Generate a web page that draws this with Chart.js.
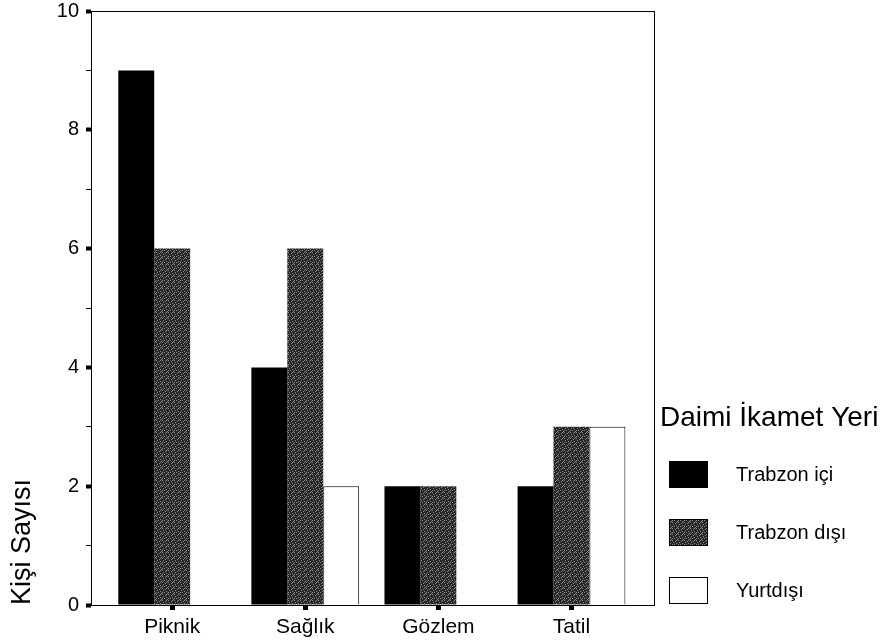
<!DOCTYPE html>
<html>
<head>
<meta charset="utf-8">
<script src="https://cdn.jsdelivr.net/npm/chart.js@4/dist/chart.umd.min.js"></script>
<style>
  html, body { margin: 0; padding: 0; background: #fff; }
  #wrap { width: 886px; height: 644px; }
</style>
</head>
<body>
<div id="wrap"><canvas id="chart" width="886" height="644"></canvas></div>
<script>
// Data
const categories = ['Piknik', 'Sağlık', 'Gözlem', 'Tatil'];
const trabzonIci = [9, 4, 2, 2];
const trabzonDisi = [6, 6, 2, 3];
const yurtdisi = [0, 2, 0, 3];
const seriesNames = ['Trabzon içi', 'Trabzon dışı', 'Yurtdışı'];
const legendTitle = 'Daimi İkamet Yeri';
const yTitle = 'Kişi Sayısı';

const FONT = '"Liberation Sans", Arial, sans-serif';

// stippled dark grey, like the scanned fill
function makeGrey() {
    const c = document.createElement('canvas');
    c.width = 6; c.height = 6;
    const g = c.getContext('2d');
    g.fillStyle = '#262626';
    g.fillRect(0, 0, 6, 6);
    g.fillStyle = '#8c8c8c';
    const dots = [[0,0],[3,1],[1,2],[4,3],[2,4],[5,5],[0,4],[4,0]];
    dots.forEach(([x, y]) => g.fillRect(x, y, 1, 1));
    return g.createPattern(c, 'repeat');
}
const grey = makeGrey();

const toPoints = arr => arr.map((v, i) => ({ x: i + 1, y: v }));

// plot frame
const framePlugin = {
    id: 'frame',
    afterDatasetsDraw(chart) {
        const { ctx, chartArea: a } = chart;
        ctx.save();
        ctx.strokeStyle = '#000';
        ctx.lineWidth = 1;
        ctx.strokeRect(a.left + 0.5, a.top + 0.5, a.right - a.left, a.bottom - a.top);
        ctx.restore();
    }
};

// legend on the right with title
const legendPlugin = {
    id: 'sideLegend',
    afterDraw(chart) {
        const ctx = chart.ctx;
        ctx.save();
        ctx.fillStyle = '#000';
        ctx.textBaseline = 'middle';
        ctx.textAlign = 'left';
        ctx.font = '28px ' + FONT;
        ctx.fillText(legendTitle, 660, 418);
        ctx.font = '20px ' + FONT;
        chart.data.datasets.forEach((ds, i) => {
            const y = 474 + i * 58;
            ctx.fillStyle = ds.backgroundColor;
            ctx.fillRect(669, y - 13, 39, 27);
            ctx.strokeStyle = '#000';
            ctx.lineWidth = 1;
            ctx.strokeRect(669.5, y - 12.5, 38, 26);
            ctx.fillStyle = '#000';
            ctx.fillText(ds.label, 736, y + 1);
        });
        ctx.restore();
    }
};

new Chart(document.getElementById('chart'), {
    type: 'bar',
    data: {
        datasets: [
            { label: seriesNames[0], data: toPoints(trabzonIci), backgroundColor: '#000', borderWidth: 0 },
            { label: seriesNames[1], data: toPoints(trabzonDisi), backgroundColor: grey, borderWidth: 0 },
            { label: seriesNames[2], data: toPoints(yurtdisi), backgroundColor: '#fff', borderColor: '#000', borderWidth: 1 }
        ]
    },
    options: {
        responsive: false,
        animation: false,
        categoryPercentage: 0.81,
        barPercentage: 1.0,
        layout: { padding: { top: 11, right: 232, left: 0, bottom: 0 } },
        plugins: {
            legend: { display: false },
            tooltip: { enabled: false }
        },
        scales: {
            x: {
                type: 'linear',
                offset: false,
                min: 0.39,
                max: 4.62,
                afterBuildTicks: axis => { axis.ticks = categories.map((_, i) => ({ value: i + 1 })); },
                afterFit: scale => { scale.height = 39; },
                border: { display: false },
                grid: {
                    offset: false,
                    drawOnChartArea: false,
                    tickLength: 5,
                    tickWidth: 5,
                    tickColor: '#000'
                },
                ticks: {
                    autoSkip: false,
                    maxRotation: 0,
                    padding: 5,
                    color: '#000',
                    font: { family: FONT, size: 21 },
                    callback: v => categories[v - 1]
                }
            },
            y: {
                min: 0,
                max: 10,
                afterFit: scale => {
                    scale.width = 91;
                    scale.paddingTop = 0;
                    scale.paddingBottom = 0;
                },
                border: { display: false },
                grid: {
                    drawOnChartArea: false,
                    tickLength: 5,
                    tickWidth: ctx => (ctx.tick && ctx.tick.value % 2 === 0 ? 4 : 1),
                    tickColor: '#000'
                },
                ticks: {
                    stepSize: 1,
                    autoSkip: false,
                    padding: 7,
                    color: '#000',
                    font: { family: FONT, size: 20 },
                    callback: v => (v % 2 === 0 ? v : '')
                },
                title: {
                    display: true,
                    text: yTitle,
                    align: 'start',
                    color: '#000',
                    font: { family: FONT, size: 27 },
                    padding: { top: 6, bottom: 0 }
                }
            }
        }
    },
    plugins: [framePlugin, legendPlugin]
});
</script>
</body>
</html>
